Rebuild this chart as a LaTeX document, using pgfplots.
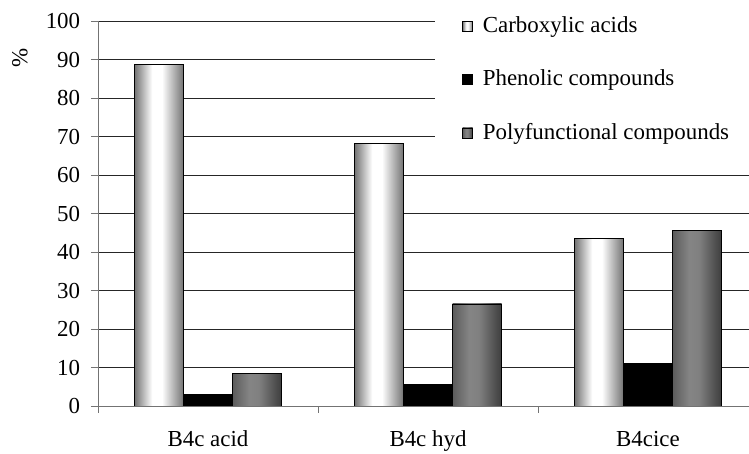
\documentclass[border=0pt]{standalone}
\usepackage{fontspec}
\setmainfont{Liberation Serif}
\usepackage{pgfplots}
\pgfplotsset{compat=1.18}

\definecolor{gridc}{gray}{0.15}
\definecolor{axisc}{gray}{0.45}

% cylinder-like shading for the carboxylic bars
\pgfdeclarehorizontalshading{carboxshade}{100bp}{%
  color(0bp)=(black!55); color(25bp)=(black!55); color(43bp)=(white);
  color(53bp)=(white); color(73bp)=(black!50); color(75bp)=(black!58);
  color(100bp)=(black!58)}
% darker shading for the polyfunctional bars
\pgfdeclarehorizontalshading{polyshade}{100bp}{%
  color(0bp)=(black!64); color(25bp)=(black!64); color(42bp)=(black!48);
  color(52bp)=(black!50); color(75bp)=(black!76); color(100bp)=(black!76)}

\pgfplotsset{
  carbox/.style={draw=black, line width=0.8bp, shading=carboxshade},
  phen/.style={draw=black, line width=0.8bp, fill=black},
  poly/.style={draw=black, line width=0.8bp, shading=polyshade},
}

\begin{document}
\fontsize{23}{27}\selectfont
\begin{tikzpicture}
\path[use as bounding box] (0,0) rectangle (749bp,454bp);
\begin{axis}[
  at={(98bp,48bp)}, anchor=south west,
  scale only axis, width=651bp, height=385bp,
  xmin=-0.5, xmax=2.459, ymin=0, ymax=100,
  axis lines*=left,
  axis line style={axisc, line width=0.8bp},
  ytick={0,10,...,100},
  ymajorgrids, grid style={gridc, line width=0.8bp},
  tick align=outside, major tick length=7bp,
  tick style={axisc, line width=0.8bp},
  xtick={-0.5,0.5,1.5}, xticklabels={},
  extra x ticks={0,1,2},
  extra x tick labels={B4c acid, B4c hyd, B4cice},
  extra x tick style={major tick length=0pt, grid=none,
    xticklabel style={yshift=-17bp}},
  /pgf/number format/assume math mode=true,
  yticklabel style={xshift=-3bp},
  ylabel={\%},
  ylabel style={at={(rel axis cs:-0.1198,0.905)}, anchor=center},
  ybar=0pt, bar width=49bp,
  legend cell align=left,
  legend style={at={(rel axis cs:0.5177,1.028)}, anchor=north west,
    draw=none, fill=white, inner xsep=27bp, inner ysep=4bp,
    row sep=30bp,
    /tikz/every odd column/.append style={column sep=8bp}},
  legend image code/.code={%
    \draw[#1, line width=0.6bp] (0bp,-5bp) rectangle (10bp,5bp);},
]
% one plot per bar, so that each bar carries its own shading
\addplot[carbox, bar shift=-49bp] coordinates {(0,88.7)};
\addplot[phen,   bar shift=0bp]   coordinates {(0,3.0)};
\addplot[poly,   bar shift=49bp]  coordinates {(0,8.5)};
\addplot[carbox, bar shift=-49bp, forget plot] coordinates {(1,68.2)};
\addplot[phen,   bar shift=0bp,   forget plot] coordinates {(1,5.7)};
\addplot[poly,   bar shift=49bp,  forget plot] coordinates {(1,26.5)};
\addplot[carbox, bar shift=-49bp, forget plot] coordinates {(2,43.6)};
\addplot[phen,   bar shift=0bp,   forget plot] coordinates {(2,11.1)};
\addplot[poly,   bar shift=49bp,  forget plot] coordinates {(2,45.5)};
\legend{Carboxylic acids, Phenolic compounds, Polyfunctional compounds}
\end{axis}
\end{tikzpicture}
\end{document}
